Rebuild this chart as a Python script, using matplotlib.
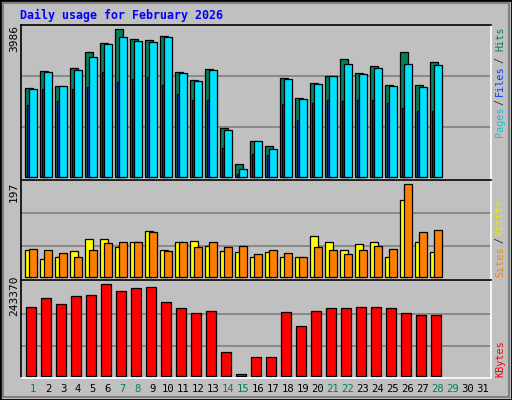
import numpy as np
import matplotlib
matplotlib.use("Agg")
import matplotlib.pyplot as plt
from matplotlib.patches import Rectangle

W, H = 512, 400
DPI = 100

days = np.arange(1, 29)
hits = [2395, 2862, 2449, 2935, 3367, 3610, 3986, 3718, 3691, 3799, 2835, 2611, 2908, 1315,
        343, 964, 829, 2665, 2125, 2530, 2719, 3178, 2800, 2989, 2476, 3367, 2476, 3097]
files = [2368, 2827, 2449, 2881, 3232, 3583, 3772, 3664, 3637, 3772, 2800, 2584, 2881, 1261,
         208, 964, 748, 2638, 2098, 2503, 2719, 3043, 2773, 2935, 2449, 3043, 2422, 3016]
pages = [1936, 2368, 2044, 2368, 2422, 2827, 2557, 2638, 2692, 2476, 2233, 2071, 2071, 775,
         81, 613, 586, 1963, 1531, 1990, 2071, 2044, 2071, 2071, 1990, 1855, 1774, 1774]
visits = [56, 37, 41, 54, 80, 80, 63, 73, 97, 56, 73, 77, 65, 54,
          52, 43, 52, 41, 43, 86, 73, 56, 69, 73, 41, 163, 73, 52]
sites = [60, 56, 50, 43, 56, 71, 73, 75, 95, 54, 75, 63, 73, 63,
         65, 48, 56, 50, 43, 63, 56, 48, 56, 65, 58, 197, 95, 99]
kbytes = [182040, 206016, 190032, 211344, 214008, 243370, 224664, 232656, 235320, 195360,
          179376, 166056, 171384, 62160, 3552, 48840, 48840, 168720, 131424, 171384,
          179376, 179376, 182040, 182040, 179376, 166056, 160728, 160728]
weekend = [1, 7, 8, 14, 15, 21, 22, 28, 29]

HITS_C, FILES_C, PAGES_C = "#00805c", "#00e0ff", "#0040ff"
VISITS_C, SITES_C, KB_C = "#ffff00", "#ff8000", "#ff0000"
MONO = "DejaVu Sans Mono"

fig = plt.figure(figsize=(W / DPI, H / DPI), dpi=DPI, facecolor="#c0c0c0")


def px_axes(x0, y0, x1, y1):
    return fig.add_axes([x0 / W, 1 - y1 / H, (x1 - x0) / W, (y1 - y0) / H])


def fx(x):
    return x / W


def fy(y):
    return 1 - y / H


def setup(ax, ylim, grid):
    ax.set_facecolor("#c0c0c0")
    ax.set_xlim(0, 470 / 15)
    ax.set_ylim(*ylim)
    for g in grid:
        ax.axhline(g, color="#808080", lw=1.2, zorder=0)
    ax.set_xticks([])
    ax.set_yticks([])
    for s in ("top", "left"):
        ax.spines[s].set_color("black")
    for s in ("bottom", "right"):
        ax.spines[s].set_color("white")
    for s in ax.spines.values():
        s.set_linewidth(1.2)


x = days - 1
ek = dict(edgecolor="black", linewidth=0.9, align="edge")

ax1 = px_axes(21, 25, 491, 180)
setup(ax1, (-81, 4104), [1350, 2727])
ax1.bar(x + 0.29, hits, width=0.52, color=HITS_C, **ek)
ax1.bar(x + 0.40, pages, width=0.15, color=PAGES_C, **ek)
ax1.bar(x + 0.55, files, width=0.5, color=FILES_C, **ek)

ax2 = px_axes(21, 180, 491, 280)
setup(ax2, (-7, 206), [65, 135])
ax2.bar(x + 0.29, visits, width=0.52, color=VISITS_C, **ek)
ax2.bar(x + 0.55, sites, width=0.5, color=SITES_C, **ek)

ax3 = px_axes(21, 280, 491, 378)
setup(ax3, (-6100, 254900), [79100, 165500])
ax3.bar(x + 0.35, kbytes, width=0.67, color=KB_C, **ek)

# title
fig.text(fx(20), fy(15), "Daily usage for February 2026", family=MONO, weight="bold",
         size=8.4, color="#0000ff", va="center", ha="left")

# left max labels
for txt, yc in (("3986", 39), ("197", 192), ("243370", 296)):
    fig.text(fx(14), fy(yc), txt, family=MONO, size=8, rotation=90, ha="center", va="center")

# right legends
legend = [("Pages", 122, "#00c8e8"), ("/", 102, "#303030"), ("Files", 81, "#0040ff"),
          ("/", 60, "#303030"), ("Hits", 39, HITS_C),
          ("Sites", 262, SITES_C), ("/", 240, "#303030"), ("Visits", 218, "#e8e800"),
          ("KBytes", 359, KB_C)]
for txt, yc, c in legend:
    fig.text(fx(500), fy(yc), txt, family=MONO, size=7.3, rotation=90, color=c,
             ha="center", va="center")

# day labels
for d in range(1, 32):
    c = HITS_C if d in weekend else "black"
    fig.text(fx(21 + 15 * (d - 1) + 12), fy(389), str(d), family=MONO, size=7.6,
             color=c, ha="center", va="center")

# frame
fig.patches.append(Rectangle((0, 0), 1, 1, transform=fig.transFigure, fill=False,
                             edgecolor="black", linewidth=2))
fig.patches.append(Rectangle((fx(3), fy(397)), fx(506), 394 / H, transform=fig.transFigure,
                             fill=False, edgecolor="#808080", linewidth=1.5))

fig.savefig("out.png", dpi=DPI, facecolor=fig.get_facecolor())
